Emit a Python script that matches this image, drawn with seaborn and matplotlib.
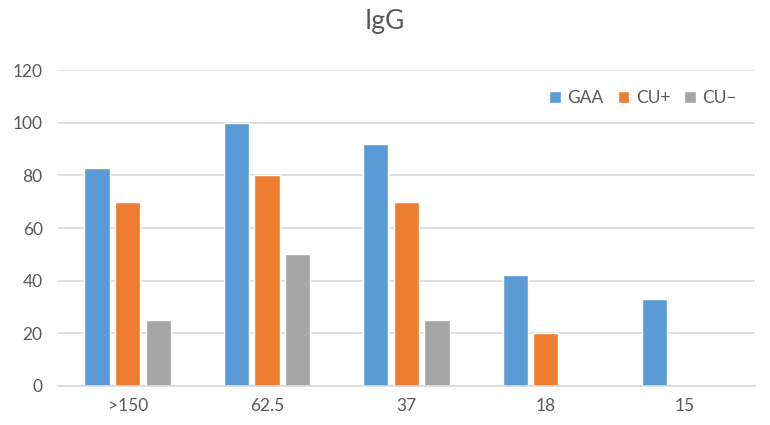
import pandas as pd
import matplotlib.pyplot as plt
import seaborn as sns

# данные с графика
categories = ['>150', '62.5', '37', '18', '15']
series = ['GAA', 'CU+', 'CU\u2212']
gaa = [83, 100, 92, 42, 33]
cu_plus = [70, 80, 70, 20, 0]
cu_minus = [25, 50, 25, 0, 0]
colors = ['#5B9BD5', '#ED7D31', '#A5A5A5']

df = pd.DataFrame({
    'cat': categories * 3,
    'series': [series[0]] * 5 + [series[1]] * 5 + [series[2]] * 5,
    'value': gaa + cu_plus + cu_minus,
})

sns.set_style('white')
plt.rcParams['font.family'] = ['Lato', 'DejaVu Sans']
text_col = '#595959'

fig = plt.figure(figsize=(7.7, 4.25), dpi=100)
ax = fig.add_axes([0.0753, 0.0918, 0.905, 0.743])

sns.barplot(data=df, x='cat', y='value', hue='series', palette=colors,
            width=0.66, gap=0.18, ax=ax, saturation=1, legend=True)

ax.set_ylim(0, 120)
ax.set_yticks(range(0, 121, 20))
ax.set_xlim(-0.5, 4.5)
ax.yaxis.grid(True, color='#D9D9D9', linewidth=1.2)
ax.set_axisbelow(True)
for s in ['top', 'right', 'left']:
    ax.spines[s].set_visible(False)
ax.spines['bottom'].set_color('#D9D9D9')
ax.spines['bottom'].set_linewidth(1.2)
ax.tick_params(axis='both', length=0, labelsize=12.5, labelcolor=text_col)
ax.tick_params(axis='y', pad=11)
ax.tick_params(axis='x', pad=9)
ax.set_xlabel('')
ax.set_ylabel('')

fig.suptitle('IgG', y=0.98, fontsize=19, color=text_col)

leg = ax.legend(loc='upper right', bbox_to_anchor=(0.992, 0.975), ncol=3,
                frameon=False, fontsize=12.5, handlelength=0.65, handleheight=0.65,
                handletextpad=0.4, columnspacing=0.8, borderaxespad=0.3)
for t in leg.get_texts():
    t.set_color(text_col)

fig.savefig('out.png', dpi=100)
